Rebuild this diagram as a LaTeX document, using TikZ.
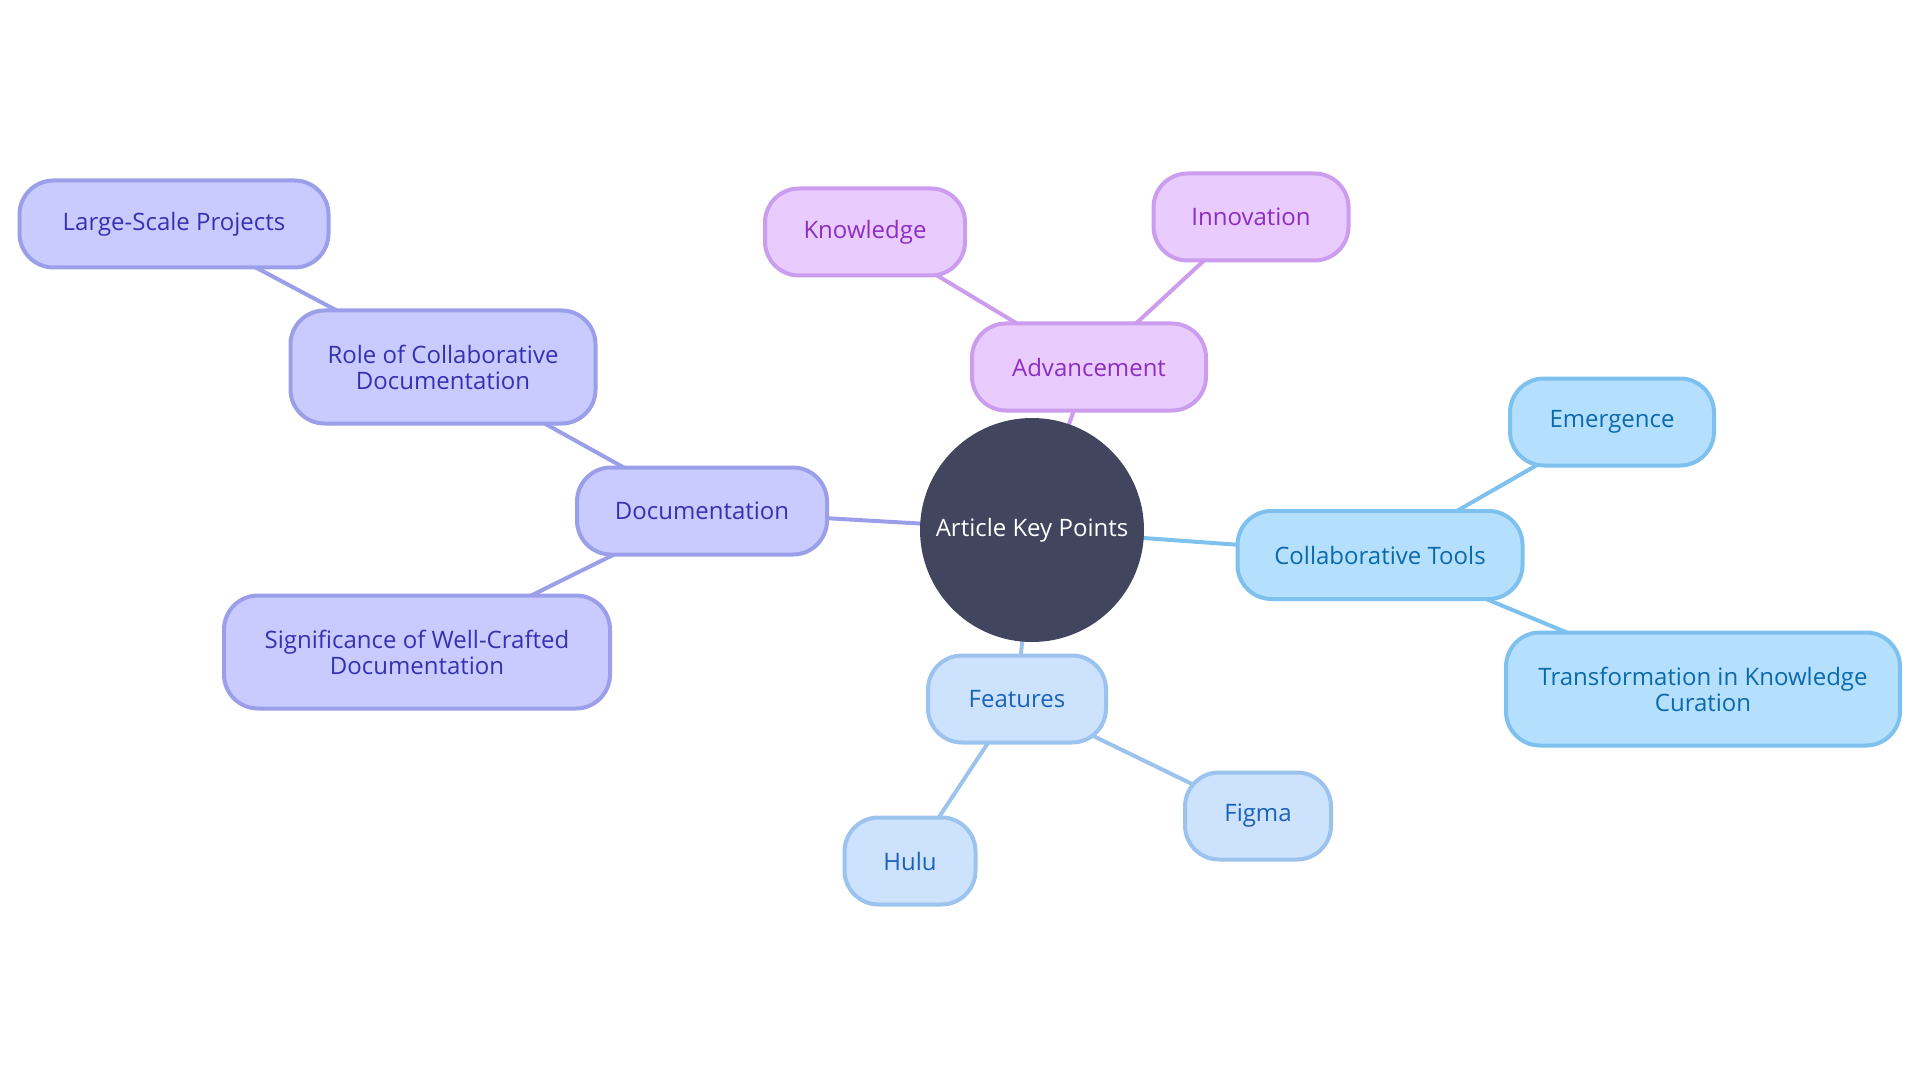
\documentclass[tikz,border=0pt]{standalone}
\usepackage{fontspec}
\setmainfont{Open Sans}
\usetikzlibrary{backgrounds}
\definecolor{hubfill}{HTML}{41455D}
\definecolor{docfill}{HTML}{C9CBFE}
\definecolor{docline}{HTML}{9B9FEA}
\definecolor{doctext}{HTML}{3532B2}
\definecolor{advfill}{HTML}{E9CCFD}
\definecolor{advline}{HTML}{CC9CEE}
\definecolor{advtext}{HTML}{8C2DC3}
\definecolor{colfill}{HTML}{B5E0FD}
\definecolor{colline}{HTML}{7EC1EF}
\definecolor{coltext}{HTML}{0B69AD}
\definecolor{feafill}{HTML}{CDE2FC}
\definecolor{fealine}{HTML}{9CC3EE}
\definecolor{featext}{HTML}{1A63B8}
\begin{document}
\begin{tikzpicture}[x=0.5pt,y=-0.5pt,
  box/.style={rectangle,rounded corners=17pt,line width=2pt,align=center,
    font=\fontsize{12}{13}\selectfont,inner sep=0pt},
  docbox/.style={box,fill=docfill,draw=docline,text=doctext},
  advbox/.style={box,fill=advfill,draw=advline,text=advtext},
  colbox/.style={box,fill=colfill,draw=colline,text=coltext},
  feabox/.style={box,fill=feafill,draw=fealine,text=featext},
  docedge/.style={draw=docline,line width=2pt},
  advedge/.style={draw=advline,line width=2pt},
  coledge/.style={draw=colline,line width=2pt},
  feaedge/.style={draw=fealine,line width=2pt}]
\useasboundingbox (0,0) rectangle (1920,1080);
\node[circle,fill=hubfill,minimum size=112pt,text=white,font=\fontsize{12}{13}\selectfont] (hub) at (1032,530) {Article Key Points};
\node[docbox,minimum width=125pt,minimum height=43.5pt] (doc) at (702,511) {Documentation};
\node[docbox,minimum width=152.5pt,minimum height=56.5pt] (role) at (443,367) {Role of Collaborative\\Documentation};
\node[docbox,minimum width=154.5pt,minimum height=43.5pt] (large) at (174,224) {Large-Scale Projects};
\node[docbox,minimum width=193pt,minimum height=56.5pt] (sig) at (417,652) {Significance of Well-Crafted\\Documentation};
\node[advbox,minimum width=117pt,minimum height=43.5pt] (adv) at (1089,367) {Advancement};
\node[advbox,minimum width=100pt,minimum height=43.5pt] (know) at (865,232) {Knowledge};
\node[advbox,minimum width=97.5pt,minimum height=43.5pt] (inno) at (1251,217) {Innovation};
\node[colbox,minimum width=142.5pt,minimum height=44pt] (col) at (1380,555) {Collaborative Tools};
\node[colbox,minimum width=102pt,minimum height=43.5pt] (emer) at (1612,422) {Emergence};
\node[colbox,minimum width=197pt,minimum height=56.5pt] (trans) at (1703,689) {Transformation in Knowledge\\Curation};
\node[feabox,minimum width=89pt,minimum height=43.5pt] (fea) at (1017,699) {Features};
\node[feabox,minimum width=65.5pt,minimum height=43.5pt] (hulu) at (910,861) {Hulu};
\node[feabox,minimum width=73pt,minimum height=43.5pt] (figma) at (1258,816) {Figma};
\begin{scope}[on background layer]
\path[docedge] (hub.center) -- (doc.center);
\path[docedge] (doc.center) -- (role.center);
\path[docedge] (role.center) -- (large.center);
\path[docedge] (doc.center) -- (sig.center);
\path[advedge] (hub.center) -- (adv.center);
\path[advedge] (adv.center) -- (know.center);
\path[advedge] (adv.center) -- (inno.center);
\path[coledge] (hub.center) -- (col.center);
\path[coledge] (col.center) -- (emer.center);
\path[coledge] (col.center) -- (trans.center);
\path[feaedge] (hub.center) -- (fea.center);
\path[feaedge] (fea.center) -- (hulu.center);
\path[feaedge] (fea.center) -- (figma.center);
\end{scope}
\end{tikzpicture}
\end{document}
